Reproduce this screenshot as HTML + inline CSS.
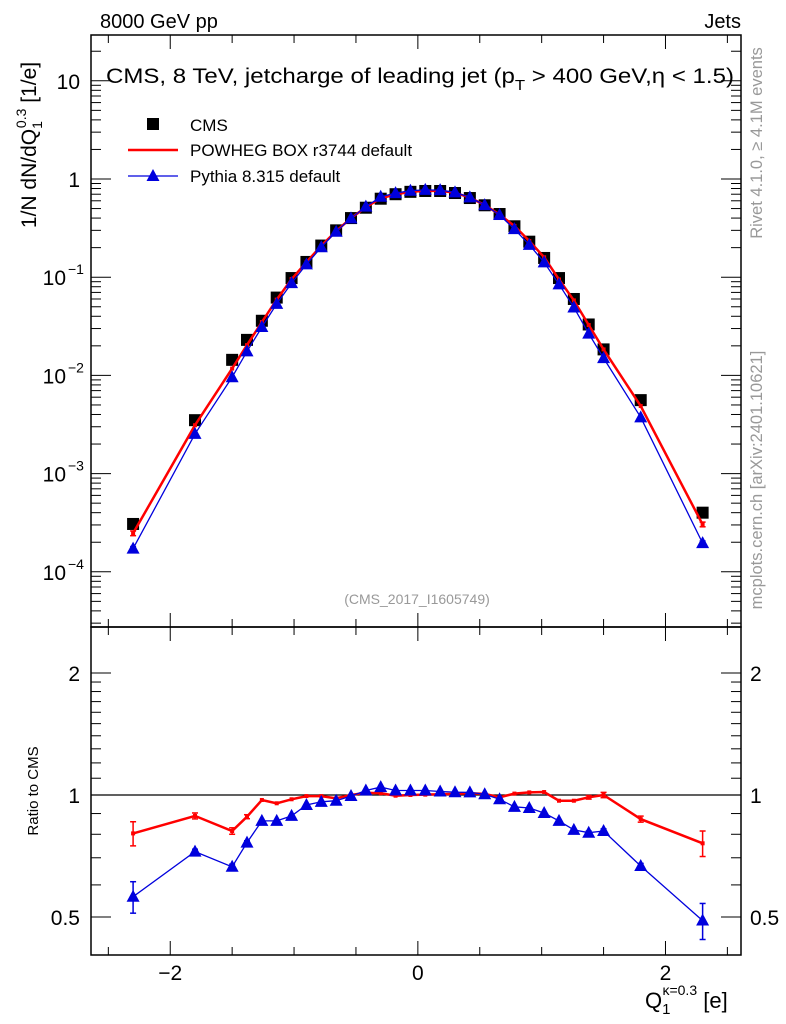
<!DOCTYPE html>
<html><head><meta charset="utf-8"><style>
body{margin:0;background:#fff;}
svg{display:block;font-family:"Liberation Sans",sans-serif;}
</style></head><body>
<svg id="chart" width="786" height="1024" viewBox="0 0 786 1024">
<g id="g-frames"></g>
</svg>
<script>
const xCenters=[-2.3,-1.8,-1.5,-1.38,-1.26,-1.14,-1.02,-0.9,-0.78,-0.66,-0.54,-0.42,-0.3,-0.18,-0.06,0.06,0.18,0.3,0.42,0.54,0.66,0.78,0.9,1.02,1.14,1.26,1.38,1.5,1.8,2.3];
const cmsValues=[3.07e-4,3.5e-3,0.0144,0.023,0.036,0.062,0.098,0.143,0.21,0.30,0.40,0.51,0.63,0.70,0.74,0.755,0.755,0.72,0.64,0.54,0.44,0.33,0.23,0.157,0.098,0.060,0.033,0.0184,5.6e-3,4.0e-4];
const powhegRatio=[0.804,0.888,0.815,0.884,0.972,0.954,0.976,0.994,0.994,0.981,1.0,1.013,1.01,0.996,1.0,1.002,1.004,1.006,1.01,1.006,0.987,1.008,1.015,1.017,0.968,0.968,0.987,1.0,0.872,0.76];
const pythiaRatio=[0.561,0.725,0.665,0.763,0.863,0.863,0.888,0.945,0.962,0.968,0.994,1.026,1.046,1.026,1.026,1.026,1.02,1.016,1.015,1.004,0.976,0.935,0.929,0.903,0.863,0.82,0.807,0.815,0.668,0.49];
const powhegErr=[0.055,0.015,0.015,0.01,0.008,0.006,0.006,0.005,0.005,0.005,0.005,0.005,0.005,0.005,0.005,0.005,0.005,0.005,0.005,0.005,0.005,0.005,0.005,0.006,0.006,0.008,0.01,0.015,0.015,0.055];
const pythiaErr=[0.05,0.01,0.01,0.008,0.006,0.005,0.005,0.005,0.005,0.005,0.005,0.005,0.005,0.005,0.005,0.005,0.005,0.005,0.005,0.005,0.005,0.005,0.005,0.005,0.005,0.006,0.008,0.01,0.01,0.05];
const xTickLabels=["\u22122","0","2"];
const xTickValues=[-2,0,2];

const svg=document.getElementById('chart');
const NS='http://www.w3.org/2000/svg';
function mk(tag,attrs,parent){const e=document.createElementNS(NS,tag);for(const k in attrs)e.setAttribute(k,attrs[k]);(parent||svg).appendChild(e);return e;}
const X0=91,X1=741,MT=35,MB=627,RB=955;
const xmin=-2.64,xmax=2.61;
const sx=v=>X0+(v-xmin)/(xmax-xmin)*(X1-X0);
const syMain=v=>179-98.2*Math.log10(v);
const syRatio=v=>795-122*Math.log2(v);

let f=mk('rect',{x:X0,y:MT,width:X1-X0,height:MB-MT,fill:'none',stroke:'#000','stroke-width':1.5});

f=mk('rect',{x:X0,y:MB,width:X1-X0,height:RB-MB,fill:'none',stroke:'#000','stroke-width':1.5});


function line(x1,y1,x2,y2,st,w,p){return mk('line',{x1,y1,x2,y2,stroke:st||'#000','stroke-width':w||1},p);}
const xt=mk('g',{});
for(let v=-2.5;v<=2.51;v+=0.5){const X=sx(v);const big=Math.abs(Math.round(v)%2)===0&&Math.abs(v-Math.round(v))<1e-6;const L=big?14:8;
 [[MB,-1],[MT,1],[RB,-1],[MB,1]].forEach(([y,d])=>line(X,y,X,y+d*L,'#000',1,xt));}
xTickValues.forEach((v,i)=>{const t=mk('text',{x:sx(v),y:980,'font-size':21,'text-anchor':'middle'});t.textContent=xTickLabels[i];
 });
const yt=mk('g',{});
for(let e=-5;e<=1;e++){for(let m=1;m<10;m++){const v=m*Math.pow(10,e);const Y=syMain(v);if(Y<MT||Y>MB)continue;const L=m===1?20:10;
 line(X0,Y,X0+L,Y,'#000',1,yt);line(X1,Y,X1-L,Y,'#000',1,yt);}}
const yl=[[10,'10'],[1,'1'],[0.1,'10','\u22121'],[0.01,'10','\u22122'],[0.001,'10','\u22123'],[0.0001,'10','\u22124']];
yl.forEach(a=>{const t=mk('text',{x:a[2]?66:80,y:syMain(a[0])+8,'font-size':21,'text-anchor':'end'});t.textContent=a[1];
 
 if(a[2]){const s=mk('text',{x:68,y:syMain(a[0])-3,'font-size':14});s.textContent=a[2];}});
const rt=mk('g',{});
[0.5,0.6,0.7,0.8,0.9,1,1.1,1.2,1.3,1.4,1.5,1.6,1.7,1.8,1.9,2].forEach(v=>{const Y=syRatio(v);const L=(v===0.5||v===1||v===2)?20:10;
 line(X0,Y,X0+L,Y,'#000',1,rt);line(X1,Y,X1-L,Y,'#000',1,rt);});
[[2,'2'],[1,'1'],[0.5,'0.5']].forEach(a=>{let t=mk('text',{x:80,y:syRatio(a[0])+8,'font-size':21,'text-anchor':'end'});t.textContent=a[1];
 
 t=mk('text',{x:750,y:syRatio(a[0])+8,'font-size':21});t.textContent=a[1];
 });
let ref=line(X0,syRatio(1),X1,syRatio(1),'#000',1.3);

function series(vals,color,w,marker,errs,name,panel){
 const g=mk('g',{});
 const sy=panel==='main'?syMain:syRatio;
 const pts=vals.map((v,i)=>sx(xCenters[i]).toFixed(1)+','+sy(v).toFixed(1)).join(' ');
 mk('polyline',{points:pts,fill:'none',stroke:color,'stroke-width':w},g);
 vals.forEach((v,i)=>{const X=sx(xCenters[i]);const e=errs[i]*(panel==='main'?v:1);
  const y1=sy(v+e),y2=sy(Math.max(v-e,1e-9));
  if(Math.abs(y2-y1)>3){line(X,y1,X,y2,color,1.5,g);line(X-3,y1,X+3,y1,color,1.5,g);line(X-3,y2,X+3,y2,color,1.5,g);}
  const Y=sy(v);
  if(marker==='tri')mk('polygon',{points:`${X},${Y-7} ${X-6.5},${Y+5} ${X+6.5},${Y+5}`,fill:color},g);
  else mk('rect',{x:X-2,y:Y-2,width:4,height:4,fill:color},g);});
}
const cg=mk('g',{});
cmsValues.forEach((v,i)=>mk('rect',{x:sx(xCenters[i])-6,y:syMain(v)-6,width:12,height:12,fill:'#000'},cg));
series(cmsValues.map((v,i)=>v*powhegRatio[i]),'#f00',2.5,'sq',powhegErr,'powheg-main-series','main');
series(cmsValues.map((v,i)=>v*pythiaRatio[i]),'#00d',1.3,'tri',pythiaErr,'pythia-main-series','main');
series(powhegRatio,'#f00',2.5,'sq',powhegErr,'powheg-ratio-series','ratio');
series(pythiaRatio,'#00d',1.3,'tri',pythiaErr,'pythia-ratio-series','ratio');
</script>
<svg width="786" height="1024" style="position:absolute;left:0;top:0" font-family="Liberation Sans, sans-serif">
<text x="100" y="28" font-size="20">8000 GeV pp</text>
<text x="741" y="28" font-size="20" text-anchor="end">Jets</text>
<text x="106" y="83" font-size="21.5" textLength="628" lengthAdjust="spacingAndGlyphs">CMS, 8 TeV, jetcharge of leading jet (p<tspan font-size="15" dy="7">T</tspan><tspan dy="-7"> &gt; 400 GeV,η &lt; 1.5)</tspan></text>
<g>
<rect x="147" y="118" width="12" height="12" fill="#000"/>
<text x="190" y="131" font-size="17">CMS</text>
<line x1="128" y1="150" x2="178" y2="150" stroke="#f00" stroke-width="2.5"/>
<text x="190" y="156" font-size="17">POWHEG BOX r3744 default</text>
<line x1="128" y1="176" x2="178" y2="176" stroke="#00d" stroke-width="1.3"/>
<polygon points="153,169 146.5,181 159.5,181" fill="#00d"/>
<text x="190" y="182" font-size="17">Pythia 8.315 default</text>
</g>
<text x="417" y="604" font-size="14" fill="#999" text-anchor="middle">(CMS_2017_I1605749)</text>
<text transform="translate(36,145) rotate(-90)" font-size="21" text-anchor="middle">1/N dN/dQ<tspan font-size="14" dy="6">1</tspan><tspan font-size="14" dy="-16" dx="-7">0.3</tspan><tspan dy="10"> [1/e]</tspan></text>
<text transform="translate(38,791) rotate(-90)" font-size="15" text-anchor="middle">Ratio to CMS</text>
<text transform="translate(762,143) rotate(-90)" font-size="16.5" fill="#999" text-anchor="middle">Rivet 4.1.0, ≥ 4.1M events</text>
<text transform="translate(762,480) rotate(-90)" font-size="16.5" fill="#999" text-anchor="middle">mcplots.cern.ch [arXiv:2401.10621]</text>
<text x="645" y="1008" font-size="22">Q<tspan font-size="15" dy="6">1</tspan><tspan font-size="14" dy="-19" dx="-8">κ=0.3</tspan><tspan dy="13"> [e]</tspan></text>
</svg>
</body></html>
